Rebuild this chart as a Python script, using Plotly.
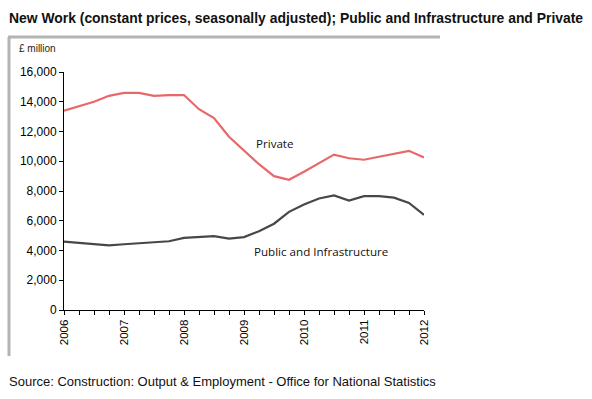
import plotly.graph_objects as go

# Quarterly points, 2006 Q1 .. 2012 Q1 (decimal years)
quarters = [2006 + 0.25 * k for k in range(25)]

private = [13400, 13700, 14000, 14400, 14600, 14600, 14400, 14450, 14450,
           13500, 12900, 11650, 10700, 9800, 9000, 8750, 9300, 9900,
           10450, 10200, 10100, 10300, 10500, 10700, 10250]

public_infra = [4600, 4500, 4420, 4350, 4420, 4500, 4550, 4620, 4850,
                4900, 4970, 4800, 4900, 5300, 5800, 6600, 7100, 7500,
                7700, 7360, 7650, 7650, 7550, 7200, 6400]

year_ticks = [2006, 2007, 2008, 2009, 2010, 2011, 2012]
y_ticks = [0, 2000, 4000, 6000, 8000, 10000, 12000, 14000, 16000]
y_tick_text = ["0", "2,000", "4,000", "6,000", "8,000", "10,000", "12,000", "14,000", "16,000"]

W, H = 592, 399
L, R, T, B = 64, 168, 72, 89
pw, ph = W - L - R, H - T - B


def px(x):
    return (x - L) / pw


def py(y):
    return (H - B - y) / ph


fig = go.Figure()
fig.add_trace(go.Scatter(x=quarters, y=private, mode="lines", name="Private",
                         line=dict(color="#e8686a", width=2.2)))
fig.add_trace(go.Scatter(x=quarters, y=public_infra, mode="lines", name="Public and Infrastructure",
                         line=dict(color="#474747", width=2.2)))

fig.update_layout(
    width=W, height=H,
    margin=dict(l=L, r=R, t=T, b=B),
    paper_bgcolor="white", plot_bgcolor="white",
    showlegend=False,
    font=dict(family="Arial, Liberation Sans, sans-serif", color="#000000"),
    xaxis=dict(range=[2006, 2012], tickvals=year_ticks, ticktext=[str(v) for v in year_ticks],
               tickangle=-90, showgrid=False, zeroline=False,
               showline=True, linecolor="black", linewidth=1,
               ticks="outside", ticklen=4, tickcolor="black",
               minor=dict(dtick=0.25, tick0=2006, ticks="outside", ticklen=4, tickcolor="black"),
               tickfont=dict(size=11.5, family="Liberation Sans, Arial, sans-serif")),
    yaxis=dict(range=[0, 16000], tickvals=y_ticks, ticktext=y_tick_text,
               showgrid=False, zeroline=False,
               showline=True, linecolor="black", linewidth=1,
               ticks="outside", ticklen=4, tickcolor="black",
               tickfont=dict(size=12, family="Liberation Sans, Arial, sans-serif")),
)

# Frame lines (grey)
fig.add_shape(type="line", xref="paper", yref="paper",
              x0=px(8), x1=px(440), y0=py(37), y1=py(37),
              line=dict(color="#b4b4b4", width=3))
fig.add_shape(type="line", xref="paper", yref="paper",
              x0=px(9), x1=px(9), y0=py(37), y1=py(356),
              line=dict(color="#b4b4b4", width=3))

# Title
fig.add_annotation(text="<b>New Work (constant prices, seasonally adjusted); Public and Infrastructure and Private</b>",
                   xref="paper", yref="paper", x=px(7), y=py(18), xanchor="left", yanchor="middle",
                   showarrow=False, font=dict(size=13.9, family="Arial, Liberation Sans, sans-serif", color="#111111"))
# Unit label
fig.add_annotation(text="£ million", xref="paper", yref="paper", x=px(17), y=py(49),
                   xanchor="left", yanchor="middle", showarrow=False,
                   font=dict(size=10, family="Liberation Sans, Arial, sans-serif", color="#222222"))
# Series labels
fig.add_annotation(text="Private", xref="paper", yref="paper", x=px(254), y=py(143),
                   xanchor="left", yanchor="middle", showarrow=False,
                   font=dict(size=11.6, family="Open Sans, sans-serif", color="#111111"))
fig.add_annotation(text="Public and Infrastructure", xref="paper", yref="paper", x=px(252), y=py(251),
                   xanchor="left", yanchor="middle", showarrow=False,
                   font=dict(size=11.6, family="Open Sans, sans-serif", color="#111111"))
# Source
fig.add_annotation(text="Source: Construction: Output &amp; Employment - Office for National Statistics",
                   xref="paper", yref="paper", x=px(7), y=py(381), xanchor="left", yanchor="middle",
                   showarrow=False, font=dict(size=13, family="Arial, Liberation Sans, sans-serif", color="#111111"))

fig.write_html("out.html", config={"displayModeBar": False},
               post_script="document.body.style.margin='0';")
